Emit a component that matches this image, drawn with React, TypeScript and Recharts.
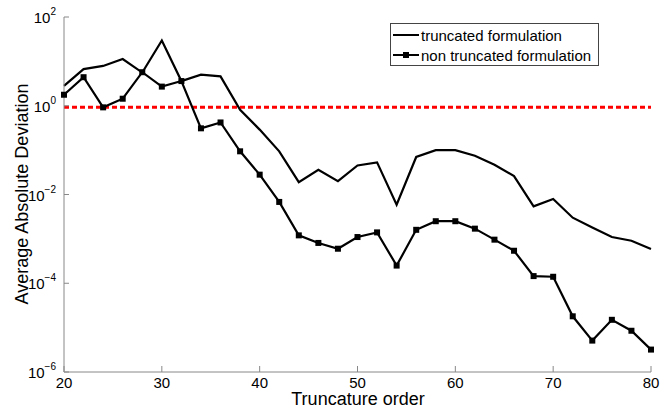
import { Label, Line, LineChart, ReferenceLine, XAxis, YAxis } from "recharts";

const orders = [20, 22, 24, 26, 28, 30, 32, 34, 36, 38, 40, 42, 44, 46, 48, 50, 52, 54, 56, 58, 60, 62, 64, 66, 68, 70, 72, 74, 76, 78, 80];
const truncated = [
  2.8, 6.7, 7.9, 11.3, 5.6, 29.6, 3.6, 5.0, 4.6, 0.81, 0.29, 0.094, 0.019, 0.036, 0.02, 0.045, 0.053, 0.0059, 0.07, 0.1, 0.1,
  0.075, 0.047, 0.026, 0.0054, 0.0079, 0.003, 0.0018, 0.0011, 0.00091, 0.00059,
];
const nonTruncated = [
  1.77, 4.4, 0.92, 1.44, 5.7, 2.7, 3.6, 0.31, 0.42, 0.094, 0.028, 0.0068, 0.0012, 0.00081, 0.0006, 0.0011, 0.0014, 0.00025,
  0.0016, 0.0025, 0.0025, 0.0017, 0.00096, 0.00054, 0.000145, 0.00014, 0.000018, 0.0000051, 0.000015, 0.0000085, 0.0000032,
];
const threshold = 0.92;
const xTicks = [20, 30, 40, 50, 60, 70, 80];
const yTicks = [1e2, 1, 1e-2, 1e-4, 1e-6];

const data = orders.map((order, i) => ({ order, truncated: truncated[i], nonTruncated: nonTruncated[i] }));

const FONT = '"Liberation Sans", Arial, sans-serif';
const AXIS = "#888";

function YTick({ x, y, payload }: any) {
  const exp = Math.round(Math.log10(payload.value));
  return (
    <g>
      <line x1={x} x2={x + 5} y1={y} y2={y} stroke={AXIS} />
      <text x={x - 8} y={y + 6} textAnchor="end" fontSize={15} fontFamily={FONT} fill="#000">
        <tspan>10</tspan>
        <tspan dy={-8} fontSize={10}>
          {exp < 0 ? `\u2212${-exp}` : exp}
        </tspan>
      </text>
    </g>
  );
}

function XTick({ x, y, payload }: any) {
  return (
    <g>
      <line x1={x} x2={x} y1={y} y2={y - 6} stroke={AXIS} />
      <text x={x} y={y + 16} textAnchor="middle" fontSize={15} fontFamily={FONT} fill="#000">
        {payload.value}
      </text>
    </g>
  );
}

function SquareDot({ cx, cy, index }: any) {
  return <rect key={index} x={cx - 3} y={cy - 3} width={6} height={6} fill="#000" />;
}

function LegendBox() {
  const row = (label: string, marker: boolean) => (
    <div style={{ display: "flex", alignItems: "center", height: 20 }}>
      <svg width={30} height={20}>
        <line x1={2} x2={28} y1={10} y2={10} stroke="#000" strokeWidth={2} />
        {marker && <rect x={12} y={7} width={6} height={6} fill="#000" />}
      </svg>
      <span style={{ fontSize: 15, fontFamily: FONT, color: "#000", whiteSpace: "nowrap" }}>{label}</span>
    </div>
  );
  return (
    <div
      style={{
        position: "absolute",
        left: 390,
        top: 23,
        border: "1px solid #444",
        background: "#fff",
        width: 207,
        height: 40,
        paddingTop: 1,
      }}
    >
      {row("truncated formulation", false)}
      {row("non truncated formulation", true)}
    </div>
  );
}

export default function App() {
  return (
    <div style={{ position: "absolute", left: 0, top: 0, width: 663, height: 416, background: "#fff" }}>
      <LineChart width={663} height={416} data={data} margin={{ top: 17, right: 12, bottom: 0, left: 0 }}>
        <XAxis
          dataKey="order"
          type="number"
          domain={[20, 80]}
          ticks={xTicks}
          height={44}
          tickSize={0}
          tickMargin={0}
          stroke={AXIS}
          tick={<XTick />}
        >
          <Label
            content={() => (
              <text x={358} y={405} textAnchor="middle" fontSize={18} fontFamily={FONT} fill="#000">
                Truncature order
              </text>
            )}
          />
        </XAxis>
        <YAxis
          scale="log"
          domain={[1e-6, 1e2]}
          ticks={yTicks}
          allowDataOverflow
          width={64}
          tickSize={0}
          tickMargin={0}
          stroke={AXIS}
          tick={<YTick />}
        >
          <Label
            content={() => (
              <text
                x={28}
                y={194}
                transform="rotate(-90 28 194)"
                textAnchor="middle"
                fontSize={18}
                fontFamily={FONT}
                fill="#000"
              >
                Average Absolute Deviation
              </text>
            )}
          />
        </YAxis>
        <ReferenceLine y={threshold} stroke="#ff0000" strokeWidth={3} strokeDasharray="5 3" />
        <Line
          dataKey="truncated"
          type="linear"
          stroke="#000"
          strokeWidth={2.2}
          dot={false}
          activeDot={false}
          isAnimationActive={false}
        />
        <Line
          dataKey="nonTruncated"
          type="linear"
          stroke="#000"
          strokeWidth={2.2}
          dot={<SquareDot />}
          activeDot={false}
          isAnimationActive={false}
        />
      </LineChart>
      <LegendBox />
    </div>
  );
}
